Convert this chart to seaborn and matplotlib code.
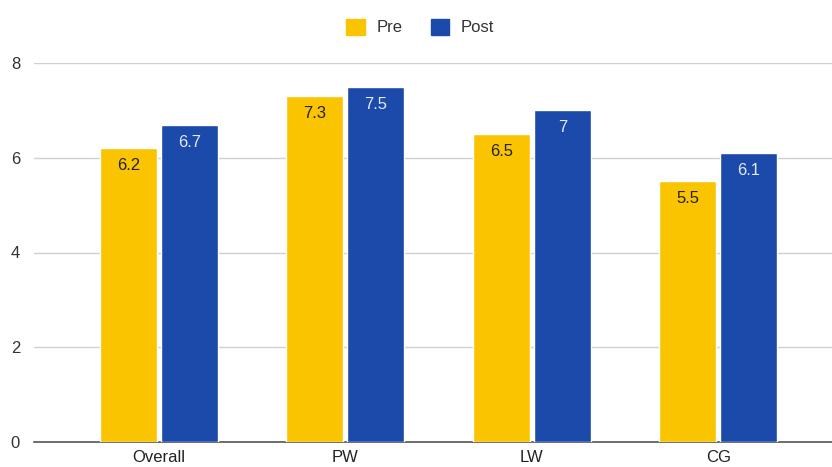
import matplotlib
matplotlib.use("Agg")
import matplotlib.pyplot as plt
import seaborn as sns
import pandas as pd
from matplotlib.patches import Patch

categories = ["Overall", "PW", "LW", "CG"]
pre_values = [6.2, 7.3, 6.5, 5.5]
post_values = [6.7, 7.5, 7.0, 6.1]
series_names = ["Pre", "Post"]
y_ticks = [0, 2, 4, 6, 8]

colors = {"Pre": "#FBC400", "Post": "#1B4AAA"}
label_colors = {"Pre": "#222222", "Post": "#E6E9F2"}

df = pd.DataFrame({
    "category": categories * 2,
    "series": ["Pre"] * len(categories) + ["Post"] * len(categories),
    "value": pre_values + post_values,
})

sns.set_theme(style="white")
plt.rcParams["font.family"] = ["Liberation Sans", "DejaVu Sans"]

fig = plt.figure(figsize=(8.32, 4.67), dpi=100)
ax = fig.add_axes([34 / 832, 25 / 467, 1 - 34 / 832, (442 - 63) / 467])

sns.barplot(data=df, x="category", y="value", hue="series", order=categories,
            hue_order=series_names, palette=colors, width=0.655, gap=0.065,
            saturation=1, legend=False, ax=ax, zorder=3)

for container, name in zip(ax.containers, series_names):
    labels = [f"{v:g}" for v in container.datavalues]
    ax.bar_label(container, labels=labels, padding=-18, color=label_colors[name],
                 fontsize=12, zorder=4)

ax.set_ylim(0, 8)
ax.set_xlim(-0.67, 3.61)
ax.set_yticks(y_ticks)
ax.set_yticklabels([str(t) for t in y_ticks])
ax.yaxis.grid(True, color="#D0D0D0", linewidth=1, zorder=0)
ax.set_axisbelow(True)
for side in ["top", "right", "left"]:
    ax.spines[side].set_visible(False)
ax.spines["bottom"].set_color("#555555")
ax.spines["bottom"].set_linewidth(1.2)
ax.set_xlabel("")
ax.set_ylabel("")
ax.tick_params(axis="y", length=0, pad=10, labelsize=12, labelcolor="#333333")
ax.tick_params(axis="x", length=0, pad=6, labelsize=12, labelcolor="#222222")

handles = [Patch(facecolor=colors[n], edgecolor=colors[n]) for n in series_names]
fig.legend(handles, series_names, loc="center", bbox_to_anchor=(0.505, 1 - 27 / 467),
           ncol=2, frameon=False, fontsize=12, handlelength=1.1, handleheight=1.1,
           columnspacing=1.7, handletextpad=0.7, labelcolor="#333333")

fig.savefig("out.png", dpi=100)
